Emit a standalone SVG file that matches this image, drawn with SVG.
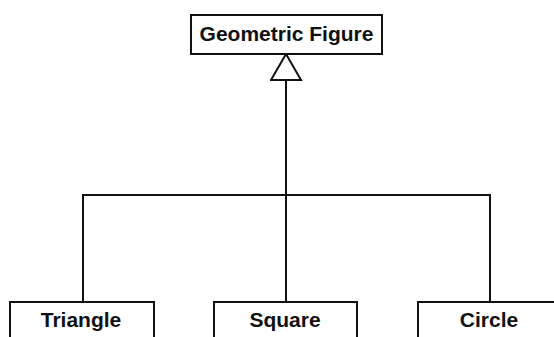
<svg xmlns="http://www.w3.org/2000/svg" width="554" height="337" viewBox="0 0 554 337">
  <defs>
    <style>
      .box { fill: #ffffff; stroke: #111111; stroke-width: 2; }
      .lbl { font-family: "Liberation Sans", Arial, sans-serif; font-weight: bold; font-size: 21px; fill: #111111; text-anchor: middle; }
      .conn { fill: none; stroke: #111111; stroke-width: 2; }
    </style>
    <marker id="gen" markerUnits="userSpaceOnUse" markerWidth="34" markerHeight="30" refX="16" refY="1" viewBox="0 0 34 30" orient="0">
      <path d="M16,1 L31,27 L1,27 Z" fill="#ffffff" stroke="#111111" stroke-width="2" stroke-linejoin="miter"/>
    </marker>
  </defs>
  <rect width="554" height="337" fill="#ffffff"/>
  <g id="connectors">
    <path class="conn" d="M286,54 V195" marker-start="url(#gen)"/>
    <path class="conn" d="M83,302 V195 H490 V302"/>
    <path class="conn" d="M286,195 V302"/>
  </g>
  <g id="geometric-figure">
    <rect class="box" x="191" y="15" width="191" height="39"/>
    <text class="lbl" x="286.5" y="41">Geometric Figure</text>
  </g>
  <g id="triangle">
    <rect class="box" x="10" y="302" width="144" height="45"/>
    <text class="lbl" x="81" y="327">Triangle</text>
  </g>
  <g id="square">
    <rect class="box" x="214" y="302" width="143" height="45"/>
    <text class="lbl" x="285" y="327">Square</text>
  </g>
  <g id="circle">
    <rect class="box" x="418" y="302" width="145" height="45"/>
    <text class="lbl" x="489" y="327">Circle</text>
  </g>
</svg>
